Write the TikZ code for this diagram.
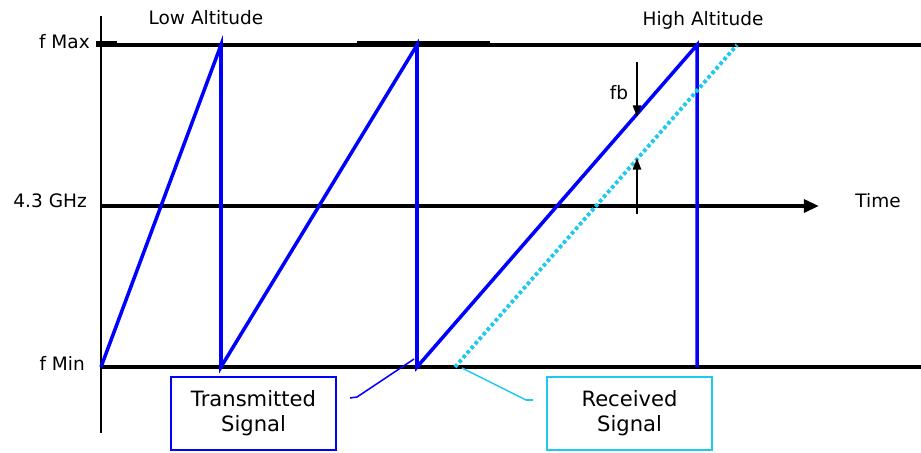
\documentclass[tikz,border=0pt]{standalone}
\usepackage{fontspec}
\setmainfont{DejaVu Sans}
\usetikzlibrary{arrows.meta,positioning}
\definecolor{azul}{HTML}{0000FF}
\definecolor{ciano}{HTML}{1EC8F0}

\begin{document}
\begin{tikzpicture}[
  x=0.03cm,y=-0.03cm,
  eixo/.style={line width=3.8pt,black},
  sinal/.style={line width=3pt,azul,line join=miter},
  eco/.style={line width=3.3pt,ciano,dash pattern=on 3pt off 2.2pt},
  rotulo/.style={font=\fontsize{15.8}{18}\selectfont,inner sep=0pt},
  caixa/.style={draw,line width=1.6pt,minimum width=4.95cm,minimum height=2.19cm,
                align=center,font=\fontsize{18}{21.5}\selectfont,inner sep=0pt},
  seta/.style={-{Triangle[length=10pt,width=7pt]},line width=1.8pt,black}
]
  \useasboundingbox (0,0) rectangle (921,453);

  % axes and levels
  \coordinate (top) at (101,16);
  \coordinate (bot) at (101,433);
  \coordinate (max0) at (101,45);
  \coordinate (max1) at (921,45);
  \coordinate (mid0) at (101,206);
  \coordinate (mid1) at (819,206);
  \coordinate (min0) at (101,367);
  \coordinate (min1) at (921,367);
  \draw[line width=2pt] (top) -- (bot);
  \draw[eixo] (max0) -- (max1);
  \draw[eixo] (min0) -- (min1);
  \draw[eixo,-{Triangle[length=13pt,width=11pt]}] (mid0) -- (mid1);
  \draw[line width=4.8pt] (96,44) -- (117,44);
  \draw[line width=1.8pt] (357,42.5) -- (490,42.5);

  % transmitted sawtooth
  \coordinate (t0) at (101,367);
  \coordinate (t1) at (221,45);
  \coordinate (t2) at (221,367);
  \coordinate (t3) at (417,45);
  \coordinate (t4) at (417,367);
  \coordinate (t5) at (697,45);
  \coordinate (t6) at (697,367);
  \draw[sinal] (t0) -- (t1) -- (t2) -- (t3) -- (t4) -- (t5) -- (t6);

  % received echo
  \coordinate (r0) at (455,367);
  \coordinate (r1) at (737,45);
  \draw[eco] (r0) -- (r1);

  % beat frequency
  \coordinate (fbtop) at (637,62);
  \coordinate (fbtx) at (637,117);
  \coordinate (fbbot) at (637,214);
  \coordinate (fbrx) at (637,158);
  \draw[seta] (fbtop) -- (fbtx);
  \draw[seta] (fbbot) -- (fbrx);
  \node[rotulo] (fb) at (619,93) {fb};

  % level labels
  \node[rotulo,anchor=east] (fmax) at (90,42) {f Max};
  \node[rotulo,anchor=east] (ghz) at (87,201) {4.3 GHz};
  \node[rotulo,anchor=east] (fmin) at (85,363) {f Min};
  \node[rotulo] (baixa) at (206,18) {Low Altitude};
  \node[rotulo] (alta) at (703,20) {High Altitude};
  \node[rotulo] (tempo) at (878,201) {Time};

  % legend boxes
  \node[caixa,azul,text=black] (tx) at (253.5,413.5) {Transmitted\\Signal};
  \node[caixa,ciano,text=black] (rx) at (629.5,413.5) {Received\\Signal};
  \coordinate (txa) at (350,398);
  \coordinate (txb) at (357,397);
  \coordinate (txc) at (414,359);
  \coordinate (rxa) at (533,400);
  \coordinate (rxb) at (526,400);
  \coordinate (rxc) at (462,368);
  \draw[azul,line width=1.3pt] (txa) -- (txb) -- (txc);
  \draw[ciano,line width=1.3pt] (rxa) -- (rxb) -- (rxc);
\end{tikzpicture}
\end{document}
